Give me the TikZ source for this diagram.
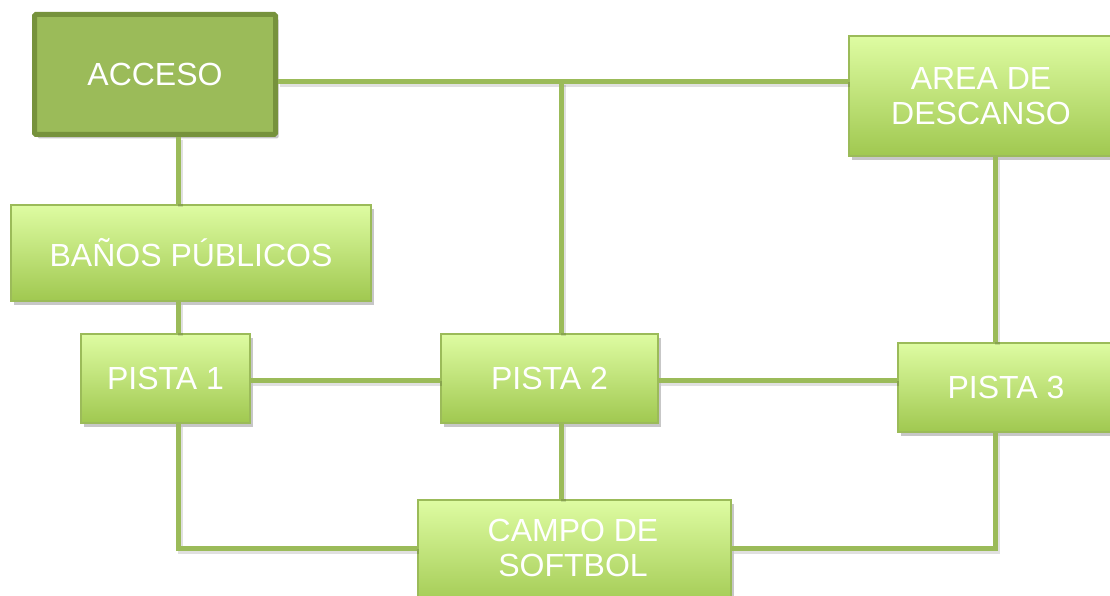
\documentclass[tikz,border=0pt]{standalone}
\usepackage{fontspec}
\setmainfont{Liberation Sans}
\usetikzlibrary{shadows,calc}
\definecolor{lineg}{RGB}{155,187,89}
\definecolor{topg}{RGB}{222,252,162}
\definecolor{botg}{RGB}{160,200,80}
\definecolor{accfill}{RGB}{155,187,89}
\definecolor{accdraw}{RGB}{118,146,60}
\tikzset{
  box/.style={rectangle, draw=lineg, line width=2pt, top color=topg, bottom color=botg,
    text=white, align=center, inner sep=0pt, anchor=north west,
    font=\fontsize{32}{35}\selectfont,
    drop shadow={shadow xshift=3pt, shadow yshift=-4pt, opacity=0.22, fill=black}},
  accbox/.style={rectangle, draw=accdraw, line width=5pt, fill=accfill, rounded corners=1.5pt,
    text=white, align=center, inner sep=0pt, anchor=north west,
    font=\fontsize{32}{35}\selectfont,
    drop shadow={shadow xshift=3pt, shadow yshift=-4pt, opacity=0.22, fill=black}},
  conn/.style={draw=lineg, line width=5pt,
    preaction={draw=black, opacity=0.12, line width=5pt, transform canvas={shift={(2pt,-3pt)}}}}
}
\begin{document}
\begin{tikzpicture}[x=1pt,y=-1pt]
\useasboundingbox (0,0) rectangle (1110,596);
% nodes
\node[accbox, minimum width=241pt, minimum height=120pt] (acc) at (32,12) {ACCESO};
\node[box, minimum width=264pt, minimum height=120pt] (area) at (848,35) {AREA DE\\DESCANSO};
\node[box, minimum width=360pt, minimum height=96pt] (bano) at (10,204) {BAÑOS PÚBLICOS};
\node[box, minimum width=169pt, minimum height=89pt] (p1) at (80,333) {PISTA 1};
\node[box, minimum width=217pt, minimum height=89pt] (p2) at (440,333) {PISTA 2};
\node[box, minimum width=216pt, minimum height=89pt] (p3) at (897,342) {PISTA 3};
\node[box, minimum width=313pt, minimum height=110pt] (campo) at (417,499) {};
\node[text=white, align=center, inner sep=0pt, font=\fontsize{32}{35}\selectfont] (campot) at (573,548) {CAMPO DE\\SOFTBOL};
% junction coordinates
\coordinate (j1) at (561,82);
\coordinate (c1) at (178,548);
\coordinate (c3) at (995,548);
\coordinate (r) at (0,380);
% connectors
\draw[conn] (acc.east |- j1) -- (area.west |- j1);
\draw[conn] (j1) -- (j1 |- p2.north);
\draw[conn] (acc.south -| c1) -- (bano.north -| c1);
\draw[conn] (bano.south -| c1) -- (p1.north -| c1);
\draw[conn] (p1.east |- r) -- (p2.west |- r);
\draw[conn] (p2.east |- r) -- (p3.west |- r);
\draw[conn] (area.south -| c3) -- (p3.north -| c3);
\draw[conn] (p1.south -| c1) -- (c1) -- (campo.west |- c1);
\draw[conn] (p3.south -| c3) -- (c3) -- (campo.east |- c3);
\draw[conn] (p2.south -| j1) -- (campo.north -| j1);
\end{tikzpicture}
\end{document}
